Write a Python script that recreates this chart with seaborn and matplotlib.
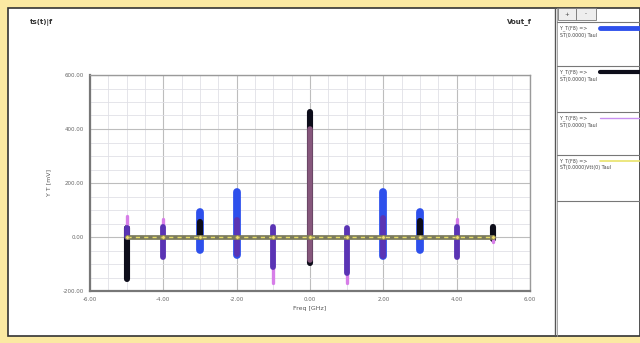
import matplotlib
matplotlib.use("Agg")
import matplotlib.pyplot as plt
import numpy as np
import pandas as pd
import seaborn as sns
from matplotlib.patches import Rectangle
from matplotlib.lines import Line2D

# ── data ──────────────────────────────────────────────────────────────────────
freqs_blue = [-3, -2, 2, 3]
blue_lo = [-48, -67, -70, -48]
blue_hi = [93, 165, 167, 93]

freqs_black = [-5, -3, 0, 3, 5]
black_lo = [-156, 0, -96, 0, -7]
black_hi = [33, 56, 463, 60, 37]

freqs_violet = [-5, -4, -2, -1, 1, 2, 4]
violet_lo = [0, -74, -62, -111, -133, -70, -74]
violet_hi = [33, 37, 63, 37, 33, 70, 37]

freqs_mauve = [0]
mauve_lo = [-85]
mauve_hi = [400]

freqs_magenta = [-5, -4, -1, 1, 4, 5]
magenta_lo = [0, -60, -170, -170, -60, -19]
magenta_hi = [78, 67, 30, 30, 67, 0]

freqs_base = [-5, -4, -3, -2, -1, 0, 1, 2, 3, 4, 5]
base_vals = [0, 0, 0, 0, 0, 0, 0, 0, 0, 0, 0]

x_ticks = [-6, -4, -2, 0, 2, 4, 6]
x_ticklabels = ["-6.00", "-4.00", "-2.00", "0.00", "2.00", "4.00", "6.00"]
y_ticks = [-200, 0, 200, 400, 600]
y_ticklabels = ["-200.00", "0.00", "200.00", "400.00", "600.00"]

legend_names = [("Y_T(F8) =>", "ST(0.0000) Taul"),
                ("Y_T(F8) =>", "ST(0.0000) Taul"),
                ("Y_T(F8) =>", "ST(0.0000) Taul"),
                ("Y_T(F8) =>", "ST(0.0000)Vtt(0) Taul")]

# ── style ─────────────────────────────────────────────────────────────────────
sns.set_style("white")
plt.rcParams["font.family"] = "DejaVu Sans"

W, H = 640, 343
fig = plt.figure(figsize=(6.4, 3.43), dpi=100)
fig.patch.set_facecolor("#fbe9a2")


def fx(x):
    return x / W


def fy(y):
    return 1 - y / H


def rect(x0, y0, x1, y1, **kw):
    fig.patches.append(Rectangle((fx(x0), fy(y1)), fx(x1) - fx(x0), fy(y0) - fy(y1),
                                 transform=fig.transFigure, figure=fig, **kw))


def hline(x0, x1, y, **kw):
    fig.lines.append(Line2D([fx(x0), fx(x1)], [fy(y), fy(y)],
                            transform=fig.transFigure, figure=fig, **kw))


def vline(x, y0, y1, **kw):
    fig.lines.append(Line2D([fx(x), fx(x)], [fy(y0), fy(y1)],
                            transform=fig.transFigure, figure=fig, **kw))


# white panels (kept behind the axes)
rect(8, 8, 640, 336, facecolor="white", edgecolor="#333333", lw=1.2, zorder=-10)
vline(555, 8, 336, color="#555555", lw=1.0)
vline(557, 8, 336, color="#999999", lw=0.6)

# ── main axes ─────────────────────────────────────────────────────────────────
ax = fig.add_axes([fx(90), fy(291), fx(530) - fx(90), fy(75) - fy(291)])
ax.set_facecolor("white")


def segments(freqs, lo, hi):
    rows = []
    for f, a, b in zip(freqs, lo, hi):
        rows.append({"freq": f, "val": a})
        rows.append({"freq": f, "val": b})
    return pd.DataFrame(rows)


draw_kw = dict(x="freq", y="val", units="freq", estimator=None, sort=False,
               legend=False, ax=ax, solid_capstyle="round")

sns.lineplot(data=segments(freqs_blue, blue_lo, blue_hi), color="#2e50ec",
             lw=5.6, zorder=3, **draw_kw)
sns.lineplot(data=segments(freqs_black, black_lo, black_hi), color="#0d0d1a",
             lw=4.4, zorder=4, **draw_kw)
sns.lineplot(data=segments(freqs_magenta, magenta_lo, magenta_hi), color="#d77ee8",
             lw=2.4, zorder=5, **draw_kw)
sns.lineplot(data=segments(freqs_violet, violet_lo, violet_hi), color="#5a34b4",
             lw=4.2, zorder=6, **draw_kw)
sns.lineplot(data=segments(freqs_mauve, mauve_lo, mauve_hi), color="#86577c",
             lw=4.0, zorder=6, **draw_kw)

base = pd.DataFrame({"freq": freqs_base, "val": base_vals})
sns.lineplot(data=base, x="freq", y="val", color="#7a7a5c", lw=3.4,
             legend=False, ax=ax, zorder=7)
sns.lineplot(data=base, x="freq", y="val", color="#e6dc68", lw=1.0,
             legend=False, ax=ax, zorder=8, linestyle=(0, (3, 3)),
             marker="o", markersize=2.5, markerfacecolor="#f0e070",
             markeredgecolor="#a09050", markeredgewidth=0.4)

ax.set_xlim(-6, 6)
ax.set_ylim(-200, 600)
ax.set_xticks(x_ticks)
ax.set_xticklabels(x_ticklabels)
ax.set_yticks(y_ticks)
ax.set_yticklabels(y_ticklabels)
ax.set_xticks(np.arange(-6, 6.01, 0.5), minor=True)
ax.set_yticks(np.arange(-200, 601, 50), minor=True)
ax.grid(which="major", color="#bdbdbd", lw=0.8)
ax.grid(which="minor", color="#e0e0e6", lw=0.6)
ax.set_axisbelow(True)
ax.tick_params(which="major", direction="out", length=3, width=0.6,
               labelsize=4, colors="#777777", labelcolor="#666666", pad=1.5)
ax.tick_params(which="minor", direction="out", length=2, width=0.5,
               colors="#888888")
for side in ["left", "bottom"]:
    ax.spines[side].set_color("#777777")
    ax.spines[side].set_linewidth(1.6)
for side in ["top", "right"]:
    ax.spines[side].set_color("#9a9a9a")
    ax.spines[side].set_linewidth(1.0)

ax.set_xlabel("Freq [GHz]", fontsize=4.5, color="#555555", labelpad=3)
ax.set_ylabel("Y T [mV]", fontsize=4.5, color="#555555", labelpad=8)

# titles
fig.text(fx(30), fy(22), "ts(t)|f", fontsize=5, fontweight="bold",
         color="#333333", va="center")
fig.text(fx(507), fy(22), "Vout_f", fontsize=5, fontweight="bold",
         color="#333333", va="center")

# ── legend panel ──────────────────────────────────────────────────────────────
rect(558, 8, 576, 20, facecolor="#eeeeee", edgecolor="#777777", lw=0.6)
rect(576, 8, 596, 20, facecolor="#eeeeee", edgecolor="#777777", lw=0.6)
fig.text(fx(567), fy(14), "+", fontsize=4, ha="center", va="center", color="#444444")
fig.text(fx(586), fy(14), "-", fontsize=4, ha="center", va="center", color="#444444")

entry_tops = [22, 66, 112, 155]
entry_colors = ["#2e50ec", "#0d0d1a", "#c890f0", "#e9e36a"]
entry_widths = [3.5, 3.0, 1.0, 1.2]
for top, (l1, l2), c, w in zip(entry_tops, legend_names, entry_colors, entry_widths):
    hline(557, 640, top, color="#777777", lw=0.8)
    fig.text(fx(560), fy(top + 6), l1, fontsize=3.4, color="#444444", va="center")
    fig.text(fx(560), fy(top + 13), l2, fontsize=3.4, color="#444444", va="center")
    hline(600, 640, top + 6, color=c, lw=w)
hline(557, 640, 201, color="#777777", lw=0.8)

fig.savefig("out.png", dpi=100, facecolor=fig.get_facecolor())
